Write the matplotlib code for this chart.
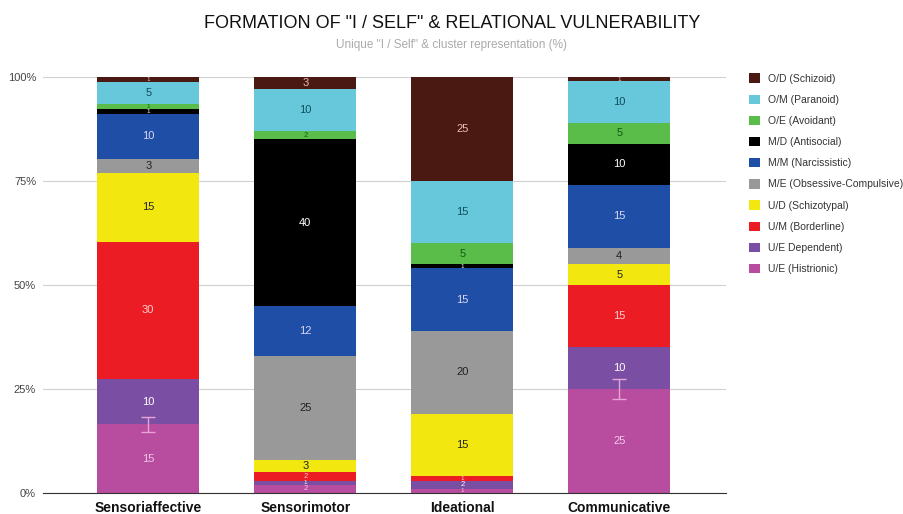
import matplotlib
matplotlib.use('Agg')
import numpy as np
from matplotlib import pyplot as plt
from matplotlib.patches import Patch

plt.rcParams['font.family'] = ['Liberation Sans', 'DejaVu Sans']

##### Data (bottom to top of each stack) #####
categories = ['Sensoriaffective', 'Sensorimotor', 'Ideational', 'Communicative']
series = ['U/E (Histrionic)', 'U/E Dependent)', 'U/M (Borderline)', 'U/D (Schizotypal)',
          'M/E (Obsessive-Compulsive)', 'M/M (Narcissistic)', 'M/D (Antisocial)',
          'O/E (Avoidant)', 'O/M (Paranoid)', 'O/D (Schizoid)']
histrionic    = [15, 2, 1, 25]
dependent     = [10, 1, 2, 10]
borderline    = [30, 2, 1, 15]
schizotypal   = [15, 3, 15, 5]
obsessive     = [3, 25, 20, 4]
narcissistic  = [10, 12, 15, 15]
antisocial    = [1, 40, 1, 10]
avoidant      = [1, 2, 5, 5]
paranoid      = [5, 10, 15, 10]
schizoid      = [1, 3, 25, 1]
# error bars on the histrionic segment (in % of column)
hist_err = [1.8, 0, 0, 2.4]

values = [histrionic, dependent, borderline, schizotypal, obsessive,
          narcissistic, antisocial, avoidant, paranoid, schizoid]
colors = ['#b84c9e', '#7a4ea2', '#ec1c24', '#f2e80f', '#999999',
          '#1f4ea6', '#000000', '#5bbd49', '#68c8db', '#4a1912']
label_colors = ['#f3c8e8', '#ffffff', '#ffd0d0', '#222222', '#222222',
                '#d8d8f4', '#ffffff', '#125a12', '#0d4f5a', '#e8c0b8']

data = np.array(values, dtype=float)
pct = data / data.sum(axis=0) * 100

fig = plt.figure(figsize=(9.04, 5.14), dpi=100)
ax = fig.add_axes([43/904, 1-493/514, (726-43)/904, (493-77)/514])

x = np.arange(len(categories))
bottom = np.zeros(len(categories))
width = 0.65
for i, name in enumerate(series):
    ax.bar(x, pct[i], width, bottom=bottom, color=colors[i], zorder=2)
    for j in range(len(categories)):
        if pct[i][j] > 2.6:
            fs = 8
        elif pct[i][j] > 1.5:
            fs = 5.5
        else:
            fs = 4.5
        ax.text(x[j], bottom[j] + pct[i][j]/2, '%d' % values[i][j], ha='center', va='center',
                fontsize=fs, color=label_colors[i], zorder=4)
    if i == 0:
        for j in range(len(categories)):
            if hist_err[j] > 0:
                ax.errorbar(x[j], pct[i][j], yerr=hist_err[j], color='#e8a4d6',
                            capsize=5, elinewidth=1, capthick=1, zorder=3)
    bottom += pct[i]

ax.set_xlim(-0.67, 3.68)
ax.set_ylim(0, 100)
ax.set_yticks([0, 25, 50, 75, 100])
ax.set_yticklabels(['0%', '25%', '50%', '75%', '100%'], fontsize=8, color='#444444')
ax.set_xticks(x)
ax.set_xticklabels(categories, fontsize=10, fontweight='bold', color='#111111')
ax.tick_params(axis='both', length=0, pad=6)
ax.tick_params(axis='y', pad=5)
ax.grid(axis='y', color='#d0d0d0', linewidth=0.8, zorder=0)
for s in ['top', 'right', 'left']:
    ax.spines[s].set_visible(False)
ax.spines['bottom'].set_color('#333333')
ax.spines['bottom'].set_zorder(5)

fig.text(0.5, 0.955, 'FORMATION OF "I / SELF" & RELATIONAL VULNERABILITY',
         ha='center', va='center', fontsize=13, color='#111111')
fig.text(0.5, 0.912, 'Unique "I / Self" & cluster representation (%)',
         ha='center', va='center', fontsize=8.5, color='#aaaaaa')

handles = [Patch(facecolor=colors[i], label=series[i]) for i in range(len(series) - 1, -1, -1)]
fig.legend(handles=handles, loc='upper left', bbox_to_anchor=(740/904, 1-64/514),
           frameon=False, fontsize=7.5, handlelength=1.0, handleheight=1.0,
           labelspacing=1.05, handletextpad=0.8, labelcolor='#333333')

plt.savefig('out.png')
